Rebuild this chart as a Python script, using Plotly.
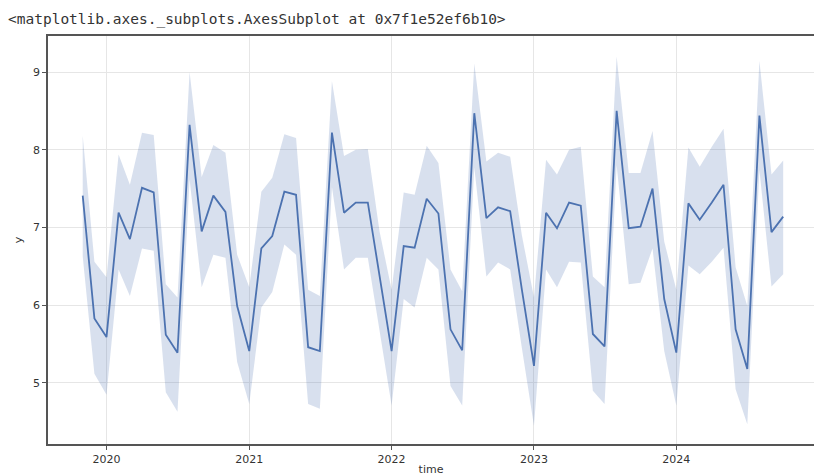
import pandas as pd
import plotly.graph_objects as go

# Monthly observations, Nov 2019 - Oct 2024
months = pd.date_range("2019-11-01", periods=60, freq="MS")

y_mean = [
    7.41, 5.83,
    5.59, 7.19, 6.85, 7.51, 7.45, 5.62, 5.39, 8.32, 6.95, 7.41, 7.20, 5.99,
    5.41, 6.73, 6.89, 7.46, 7.42, 5.46, 5.41, 8.22, 7.19, 7.32, 7.32, 6.36,
    5.41, 6.76, 6.74, 7.37, 7.18, 5.69, 5.42, 8.47, 7.12, 7.26, 7.21, 6.20,
    5.22, 7.19, 6.99, 7.32, 7.28, 5.63, 5.47, 8.50, 6.99, 7.01, 7.50, 6.08,
    5.39, 7.31, 7.10, 7.32, 7.55, 5.69, 5.18, 8.44, 6.94, 7.14,
]

y_upper = [
    8.18, 6.56,
    6.36, 7.94, 7.55, 8.22, 8.19, 6.27, 6.10, 9.00, 7.65, 8.06, 7.96, 6.65,
    6.23, 7.46, 7.64, 8.20, 8.15, 6.20, 6.12, 8.88, 7.92, 8.00, 8.01, 6.95,
    6.20, 7.45, 7.42, 8.05, 7.83, 6.46, 6.18, 9.11, 7.85, 7.96, 7.91, 6.90,
    6.10, 7.87, 7.68, 8.00, 8.04, 6.37, 6.23, 9.20, 7.70, 7.70, 8.24, 6.82,
    6.20, 8.03, 7.78, 8.04, 8.27, 6.49, 5.99, 9.14, 7.68, 7.86,
]

y_lower = [
    6.63, 5.12,
    4.85, 6.46, 6.12, 6.73, 6.70, 4.88, 4.63, 7.62, 6.23, 6.65, 6.61, 5.27,
    4.73, 5.97, 6.17, 6.78, 6.65, 4.73, 4.67, 7.52, 6.46, 6.61, 6.61, 5.70,
    4.71, 6.08, 5.97, 6.61, 6.46, 4.96, 4.71, 7.77, 6.37, 6.55, 6.46, 5.45,
    4.45, 6.46, 6.23, 6.56, 6.55, 4.90, 4.73, 7.80, 6.27, 6.29, 6.73, 5.41,
    4.71, 6.51, 6.40, 6.56, 6.74, 4.92, 4.47, 7.74, 6.24, 6.40,
]

year_ticks = ["2020-01-01", "2021-01-01", "2022-01-01", "2023-01-01", "2024-01-01"]
year_labels = ["2020", "2021", "2022", "2023", "2024"]

LINE = "rgb(76,114,176)"
BAND = "rgba(76,114,176,0.22)"
AXIS = "#555555"
GRID = "#e6e6e6"
TEXT = "#333333"

fig = go.Figure()

# confidence band
fig.add_trace(go.Scatter(
    x=list(months), y=y_upper, mode="lines",
    line=dict(width=0), hoverinfo="skip", showlegend=False,
))
fig.add_trace(go.Scatter(
    x=list(months), y=y_lower, mode="lines",
    line=dict(width=0), fill="tonexty", fillcolor=BAND,
    hoverinfo="skip", showlegend=False,
))
# mean line
fig.add_trace(go.Scatter(
    x=list(months), y=y_mean, mode="lines",
    line=dict(color=LINE, width=1.8), showlegend=False,
))

fig.update_layout(
    width=814, height=476,
    margin=dict(l=48, r=0, t=36, b=32),
    paper_bgcolor="white", plot_bgcolor="white",
    font=dict(family="DejaVu Sans", size=11, color=TEXT),
    title=dict(
        text="&lt;matplotlib.axes._subplots.AxesSubplot at 0x7f1e52ef6b10&gt;",
        xref="container", yref="container",
        x=8 / 814, y=1 - 19 / 476, xanchor="left", yanchor="middle",
        font=dict(family="DejaVu Sans Mono", size=14.5, color="#333333"),
    ),
)

fig.update_xaxes(
    type="date",
    range=["2019-08-04", "2024-12-19"],
    tickvals=year_ticks, ticktext=year_labels,
    showgrid=True, gridcolor=GRID, gridwidth=1,
    showline=True, linecolor=AXIS, linewidth=1.5, mirror=True,
    ticks="outside", ticklen=4, tickcolor=AXIS, tickwidth=1,
    zeroline=False,
    title=dict(text="time", standoff=2, font=dict(size=11, color=TEXT)),
)
fig.update_yaxes(
    range=[4.215, 9.463],
    tickvals=[5, 6, 7, 8, 9],
    showgrid=True, gridcolor=GRID, gridwidth=1,
    showline=True, linecolor=AXIS, linewidth=1.5,
    ticks="outside", ticklen=4, tickcolor=AXIS, tickwidth=1,
    zeroline=False,
    title=dict(text="y", standoff=8, font=dict(size=11, color=TEXT)),
)

fig.write_html("out.html")
